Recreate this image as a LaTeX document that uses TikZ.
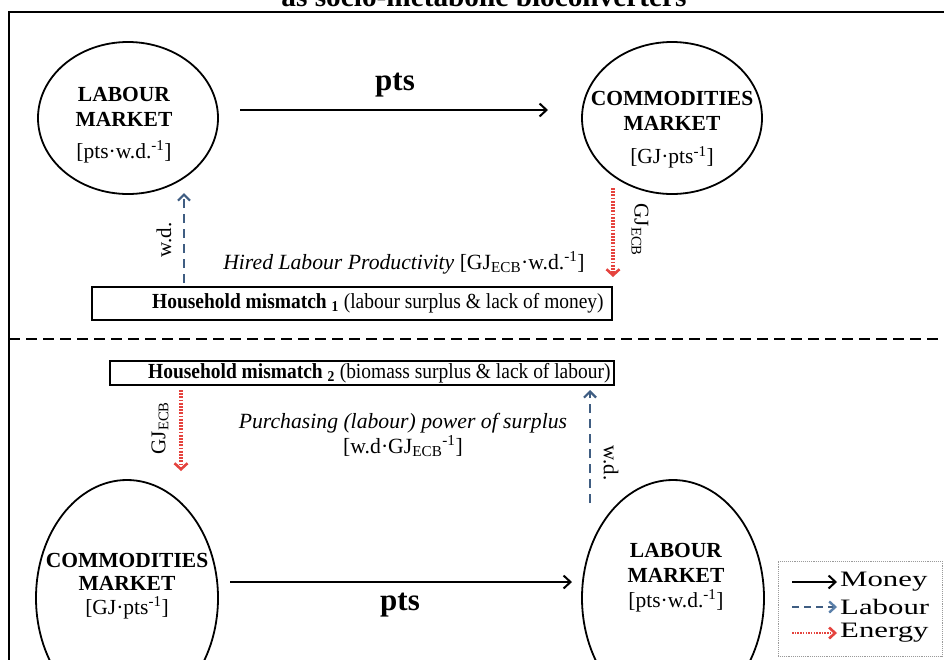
\documentclass[tikz,border=0pt]{standalone}
\usepackage{fontspec}
\setmainfont{Liberation Serif}
\usepackage{graphicx}
\usetikzlibrary{arrows.meta,shapes.geometric}

\definecolor{labourblue}{HTML}{3F5D82}
\definecolor{labourtip}{HTML}{5B80AA}
\definecolor{energyred}{HTML}{E5433E}
\definecolor{keygray}{HTML}{9A9A9A}

\tikzset{
  market/.style={draw, ellipse, line width=1.8pt, inner sep=0pt,
    minimum width=180pt, minimum height=152pt},
  bigmarket/.style={market, minimum width=182pt, minimum height=236pt},
  mtext/.style={align=center, inner sep=0pt, font=\fontsize{21.5}{25}\selectfont},
  flowlabel/.style={inner sep=0pt, font=\fontsize{31}{35}\selectfont\bfseries},
  note/.style={inner sep=0pt, font=\fontsize{21.7}{26}\selectfont},
  mmtext/.style={inner sep=0pt, anchor=west, font=\fontsize{21.5}{26}\selectfont},
  mmbox/.style={draw, line width=1.4pt, inner sep=0pt},
  money/.style={line width=2.2pt, -{Straight Barb[length=7pt,width=13pt,line width=2pt]}},
  labour/.style={labourblue, line width=2.6pt, dash pattern=on 9pt off 6pt,
    -{Straight Barb[length=6pt,width=12pt,line width=2.2pt]}},
  energy/.style={energyred, line width=3.2pt, dash pattern=on 1.8pt off 1.4pt,
    -{Straight Barb[length=6pt,width=13pt,line width=2.6pt]}},
  rotlabel/.style={inner sep=0pt, font=\fontsize{21}{25}\selectfont},
  keytext/.style={inner sep=0pt, anchor=west, font=\fontsize{22}{26}\selectfont},
  separator/.style={line width=2.6pt, dash pattern=on 11pt off 6pt},
}

\begin{document}
\begin{tikzpicture}[x=1pt,y=-1pt]
\useasboundingbox (0,0) rectangle (944,659);
\fill[white] (0,0) rectangle (944,659);

% heading, mostly above the page
\node[anchor=base, inner sep=0pt] (title) at (484,6)
  {\resizebox{405pt}{!}{\bfseries as socio-metabolic bioconverters}};

% frame
\coordinate (frameTR) at (950,12);
\coordinate (frameTL) at (9,12);
\coordinate (frameBL) at (9,665);
\draw[line width=2.6pt] (frameTR) -- (frameTL) -- (frameBL);

% ---------------- upper loop ----------------
\node[market] (lm1) at (128,118) {};
\node[mtext] (lm1t) at (124,125)
  {\textbf{LABOUR}\\\textbf{MARKET}\\[7pt][pts·w.d.\textsuperscript{-1}]};

\node[market] (cm1) at (672,118) {};
\node[mtext] (cm1t) at (672,129.6)
  {\textbf{COMMODITIES}\\\textbf{MARKET}\\[8.4pt][GJ·pts\textsuperscript{-1}]};

\coordinate (pts1a) at (240,110);
\coordinate (pts1b) at (548,110);
\draw[money] (pts1a) -- (pts1b);
\node[flowlabel] (pts1) at (395,85) {pts};

\node[mmbox, minimum width=520pt, minimum height=33pt] (mm1) at (352,303.5) {};
\node[mmtext] (mm1t) at (152,303)
  {\scalebox{0.905}[1]{\textbf{Household mismatch \textsubscript{1}} (labour surplus \& lack of money)}};

\coordinate (wd1tail) at (184,283);
\coordinate (wd1tip) at (184,193);
\draw[labour] (wd1tail) -- (wd1tip);
\node[rotlabel, rotate=90] (wd1) at (164,240) {w.d.};

\coordinate (gj1tail) at (613,188);
\coordinate (gj1tip) at (613,277);
\draw[energy] (gj1tail) -- (gj1tip);
\node[rotlabel, rotate=-90] (gj1) at (640,230) {GJ\textsubscript{ECB}};

\node[note] (hlp) at (404,263)
  {\textit{Hired Labour Productivity} [GJ\textsubscript{ECB}·w.d.\textsuperscript{-1}]};

% divider between the two loops
\coordinate (sepL) at (9,339);
\coordinate (sepR) at (950,339);
\draw[separator] (sepL) -- (sepR);

% ---------------- lower loop ----------------
\node[mmbox, minimum width=504pt, minimum height=24pt] (mm2) at (362,373) {};
\node[mmtext] (mm2t) at (148,373)
  {\scalebox{0.905}[1]{\textbf{Household mismatch \textsubscript{2}} (biomass surplus \& lack of labour)}};

\node[note] (pps) at (403,423) {\textit{Purchasing (labour) power of surplus}};
\node[note] (ppsu) at (403,446) {[w.d·GJ\textsubscript{ECB}\textsuperscript{-1}]};

\coordinate (gj2tail) at (181,390);
\coordinate (gj2tip) at (181,471);
\draw[energy] (gj2tail) -- (gj2tip);
\node[rotlabel, rotate=90] (gj2) at (160,428) {GJ\textsubscript{ECB}};

\coordinate (wd2tail) at (590,503);
\coordinate (wd2tip) at (590,390);
\draw[labour] (wd2tail) -- (wd2tip);
\node[rotlabel, rotate=-90] (wd2) at (611,463) {w.d.};

\node[bigmarket] (cm2) at (127,598) {};
\node[mtext] (cm2t) at (127,586)
  {\textbf{COMMODITIES}\\[-2pt]\textbf{MARKET}\\[-1.6pt][GJ·pts\textsuperscript{-1}]};

\node[bigmarket] (lm2) at (673,598) {};
\node[mtext] (lm2t) at (676,577.5)
  {\textbf{LABOUR}\\\textbf{MARKET}\\[0pt][pts·w.d.\textsuperscript{-1}]};

\coordinate (pts2a) at (230,582);
\coordinate (pts2b) at (572,582);
\draw[money] (pts2a) -- (pts2b);
\node[flowlabel] (pts2) at (400,605) {pts};

% ---------------- key ----------------
\node[draw=keygray, densely dotted, line width=0.9pt, inner sep=0pt,
      minimum width=164pt, minimum height=95pt] (key) at (860,608.5) {};
\coordinate (k1a) at (792,582);  \coordinate (k1b) at (837,582);
\coordinate (k2a) at (792,607);  \coordinate (k2b) at (837,607);
\coordinate (k3a) at (792,633);  \coordinate (k3b) at (837,633);
\draw[money, line width=1.8pt] (k1a) -- (k1b);
\draw[labourblue, line width=2.2pt, dash pattern=on 7pt off 5pt,
  -{Straight Barb[length=6pt,width=11pt,line width=2.4pt,color=labourtip]}] (k2a) -- (k2b);
\draw[energyred, line width=2.6pt, dash pattern=on 1.5pt off 1.2pt,
  -{Straight Barb[length=6pt,width=11pt,line width=2.6pt]}] (k3a) -- (k3b);
\node[keytext] (k1) at (840,582) {\scalebox{1.4}[1]{Money}};
\node[keytext] (k2) at (840,607) {\scalebox{1.4}[1]{Labour}};
\node[keytext] (k3) at (840,633) {\scalebox{1.4}[1]{Energy}};
\end{tikzpicture}
\end{document}
